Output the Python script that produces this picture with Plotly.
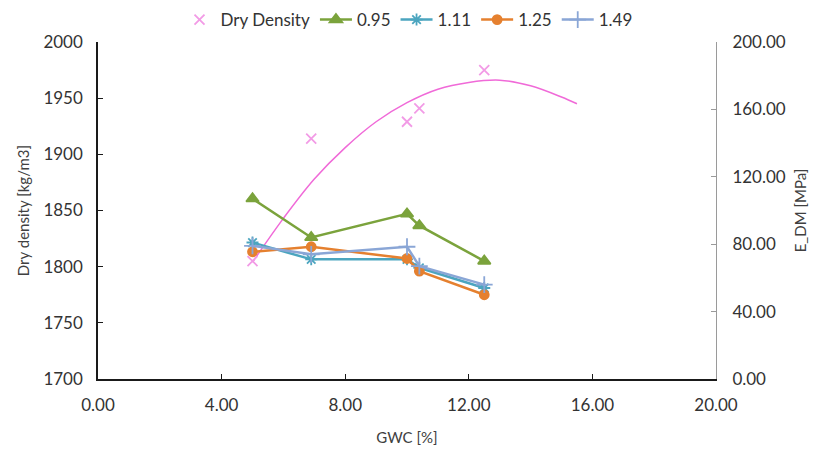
import plotly.graph_objects as go

# ---- data ----
gwc = [5.0, 6.9, 10.0, 10.4, 12.5]
dry_density = [1805, 1914, 1929, 1941, 1975]

# trend line of dry density
trend_gwc = [5.0, 6.0, 7.0, 8.0, 9.0, 10.0, 11.0, 12.0, 13.0, 14.0, 15.0, 15.5]
trend_density = [1804, 1843, 1878, 1906, 1929, 1946, 1958, 1964, 1966, 1961, 1951, 1945]

e_095 = [107, 84, 98, 91, 70]
e_111 = [81, 71, 71, 66, 54]
e_125 = [75.5, 78.5, 71.5, 64, 50]
e_149 = [79, 74, 78.5, 67, 56]

x_ticks = [0, 4, 8, 12, 16, 20]
y_ticks = [1700, 1750, 1800, 1850, 1900, 1950, 2000]
y2_ticks = [0, 40, 80, 120, 160, 200]

FONT = "Lato"

fig = go.Figure()

fig.add_trace(go.Scatter(
    x=trend_gwc, y=trend_density, mode="lines", line_shape="spline",
    line=dict(color="#F06AD8", width=1.5), showlegend=False, hoverinfo="skip"))

fig.add_trace(go.Scatter(
    x=gwc, y=dry_density, mode="markers", name="Dry Density",
    marker=dict(symbol="x-thin-open", size=10, color="#F29BE6",
                line=dict(color="#F29BE6", width=1.8))))

series = [
    ("0.95", e_095, "#7BA33C", "triangle-up", 11),
    ("1.11", e_111, "#4BA5BF", "asterisk-open", 10),
    ("1.25", e_125, "#E5802F", "circle", 9),
    ("1.49", e_149, "#8AA6D6", "cross-thin-open", 12),
]
for name, vals, col, sym, sz in series:
    fig.add_trace(go.Scatter(
        x=gwc, y=vals, mode="lines+markers", name=name, yaxis="y2",
        line=dict(color=col, width=2.5),
        marker=dict(symbol=sym, size=sz, color=col, line=dict(color=col, width=1.8))))

axis_font = dict(family=FONT, size=17, color="#333333")
title_font = dict(family=FONT, size=15, color="#404040")

fig.update_layout(
    width=816, height=455,
    margin=dict(l=98, r=100, t=42, b=76, autoexpand=False),
    paper_bgcolor="white", plot_bgcolor="white",
    font=dict(family=FONT, color="#404040"),
    showlegend=True,
    legend=dict(orientation="h", x=0.5, xanchor="center", xref="container",
                y=0.956, yanchor="middle", yref="container",
                font=dict(family=FONT, size=17, color="#333333"),
                itemwidth=32, tracegroupgap=0, bgcolor="rgba(0,0,0,0)"),
    xaxis=dict(range=[0, 20], tickvals=x_ticks, ticktext=[f"{v:.2f}" for v in x_ticks],
               showgrid=False, zeroline=False, showline=True, linecolor="#1a1a1a",
               linewidth=1.5, ticks="inside", ticklen=5, tickcolor="#1a1a1a",
               tickfont=axis_font, ticklabelstandoff=10,
               title=dict(text="GWC [%]", font=title_font, standoff=18)),
    yaxis=dict(range=[1700, 2000], tickvals=y_ticks, showgrid=False, zeroline=False,
               showline=True, linecolor="#1a1a1a", linewidth=1.5, ticks="inside",
               ticklen=5, tickcolor="#1a1a1a", tickfont=axis_font, ticklabelstandoff=10,
               title=dict(text="Dry density [kg/m3]", font=title_font, standoff=10)),
    yaxis2=dict(range=[0, 200], tickvals=y2_ticks, ticktext=[f"{v:.2f}" for v in y2_ticks],
                overlaying="y", side="right", showgrid=False, zeroline=False,
                showline=True, linecolor="#9a9a9a", linewidth=1, ticks="inside",
                ticklen=5, tickcolor="#9a9a9a", tickfont=axis_font, ticklabelstandoff=12,
                title=dict(text="E_DM [MPa]", font=title_font, standoff=10)),
)

fig.write_html("out.html")
